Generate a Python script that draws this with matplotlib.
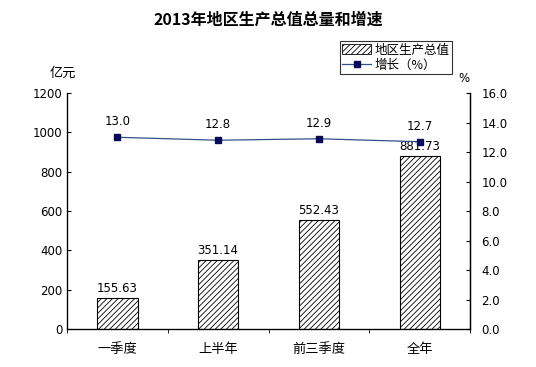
import numpy as np
import matplotlib
matplotlib.use("Agg")
import matplotlib.pyplot as plt
from matplotlib.lines import Line2D
from matplotlib.patches import Patch

plt.rcParams['font.family'] = ['Noto Sans CJK SC', 'DejaVu Sans']
plt.rcParams['hatch.linewidth'] = 0.6

# datos
categorias = ["一季度", "上半年", "前三季度", "全年"]
gdp = [155.63, 351.14, 552.43, 881.73]
crecimiento = [13.0, 12.8, 12.9, 12.7]
ticks_izq = [0, 200, 400, 600, 800, 1000, 1200]
ticks_der = [0, 2, 4, 6, 8, 10, 12, 14, 16]

fig = plt.figure(figsize=(5.36, 3.67), dpi=100)
ax = fig.add_axes([0.125, 0.1035, 0.752, 0.643])
x = np.arange(len(categorias))

ax.bar(x, gdp, width=0.4, color="white", edgecolor="black", hatch="//////", linewidth=0.8)
for xi, v in zip(x, gdp):
    ax.text(xi, v + 15, "%.2f" % v, ha="center", va="bottom", fontsize=8.5, family="DejaVu Sans")

ax.set_xlim(-0.5, len(categorias) - 0.5)
ax.set_ylim(0, 1200)
ax.set_yticks(ticks_izq)
ax.set_yticklabels([str(t) for t in ticks_izq], fontsize=8.5, family="DejaVu Sans")
ax.set_xticks(x)
ax.set_xticklabels(categorias, fontsize=9.5)
ax.set_xticks(np.arange(len(categorias) + 1) - 0.5, minor=True)
ax.tick_params(axis="x", which="major", length=0, pad=10)
ax.tick_params(axis="x", which="minor", length=3, direction="out")
ax.tick_params(axis="y", direction="in", length=3)
ax.spines["top"].set_visible(False)
for s in ["left", "right", "bottom"]:
    ax.spines[s].set_linewidth(0.9)

ax2 = ax.twinx()
ax2.plot(x, crecimiento, color="#34508a", linewidth=0.9, marker="s", markersize=4,
         markerfacecolor="#0a0a5a", markeredgecolor="#0a0a5a")
for xi, v in zip(x, crecimiento):
    ax2.text(xi, v + 0.6, "%.1f" % v, ha="center", va="bottom", fontsize=8.5, family="DejaVu Sans")
ax2.set_ylim(0, 16)
ax2.set_yticks(ticks_der)
ax2.set_yticklabels(["%.1f" % t for t in ticks_der], fontsize=8.5, family="DejaVu Sans")
ax2.tick_params(axis="y", direction="in", length=3, pad=8)
ax2.spines["top"].set_visible(False)
ax2.spines["right"].set_linewidth(0.9)

fig.text(0.5, 0.945, "2013年地区生产总值总量和增速", ha="center", va="center",
         fontsize=11.5, fontweight="bold")
fig.text(0.118, 0.80, "亿元", ha="center", va="center", fontsize=9.5)
fig.text(0.865, 0.785, "%", ha="center", va="center", fontsize=8.5, family="DejaVu Sans")

handles = [Patch(facecolor="white", edgecolor="black", hatch="//////", linewidth=0.6),
           Line2D([0], [0], color="#34508a", linewidth=0.9, marker="s", markersize=4,
                  markerfacecolor="#0a0a5a", markeredgecolor="#0a0a5a")]
leg = fig.legend(handles, ["地区生产总值", "增长（%）"], loc="upper left",
                 bbox_to_anchor=(0.634, 0.888), fontsize=9, frameon=True, fancybox=False,
                 handlelength=2.3, handleheight=0.8, handletextpad=0.3, borderpad=0.2,
                 labelspacing=0.15, borderaxespad=0)
leg.get_frame().set_edgecolor("black")
leg.get_frame().set_linewidth(0.8)

fig.savefig("out.png", dpi=100)
